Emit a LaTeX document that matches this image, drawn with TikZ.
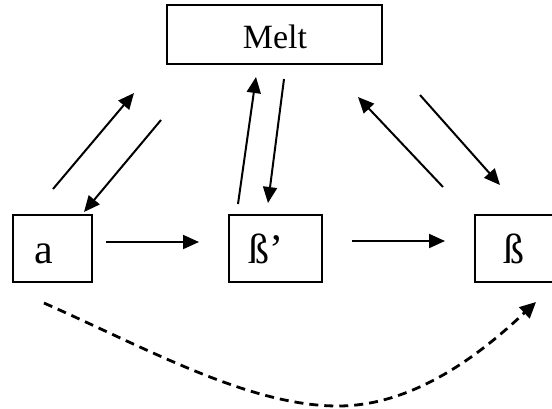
\documentclass[tikz,border=0pt]{standalone}
\usepackage{fontspec}
\setmainfont{Liberation Serif}
\usetikzlibrary{arrows.meta}
\begin{document}
\begin{tikzpicture}[x=1pt,y=-1pt,
  box/.style={draw, line width=2pt, rectangle, inner sep=0pt},
  txt/.style={anchor=base, inner sep=0pt, font=\fontsize{34}{38}\selectfont},
  bigtxt/.style={anchor=base, inner sep=0pt, font=\fontsize{42}{46}\selectfont},
  arr/.style={line width=2pt, -{Triangle[length=16pt,width=14pt]}},
  dasharr/.style={line width=2.8pt, dash pattern=on 9pt off 6pt, -{Triangle[length=16pt,width=15pt]}}]
  \useasboundingbox (0,0) rectangle (552,408);
  % phase boxes
  \node[box, minimum width=215pt, minimum height=59pt] (melt) at (274.5,34.5) {};
  \node[box, minimum width=79pt, minimum height=67pt] (a) at (52.5,248.5) {};
  \node[box, minimum width=93pt, minimum height=67pt] (bp) at (275.5,248.5) {};
  \node[box, minimum width=110pt, minimum height=67pt] (b) at (530,248.5) {};
  % labels
  \node[txt] (meltT) at (275,48) {Melt};
  \node[bigtxt] (aT) at (44,263) {a};
  \node[bigtxt] (bpT) at (266,263) {ß’};
  \node[bigtxt] (bT) at (514,263) {ß};
  % arrow end points
  \coordinate (p1) at (53,189);  \coordinate (q1) at (134,93);
  \coordinate (p2) at (161,120); \coordinate (q2) at (84,212);
  \coordinate (p3) at (238,204); \coordinate (q3) at (256,77);
  \coordinate (p4) at (284,79);  \coordinate (q4) at (268,203);
  \coordinate (p5) at (443,187); \coordinate (q5) at (358,97);
  \coordinate (p6) at (420,95);  \coordinate (q6) at (500,185);
  \coordinate (h1) at (106,242); \coordinate (k1) at (199,242);
  \coordinate (h2) at (352,241); \coordinate (k2) at (445,241);
  \coordinate (d0) at (44,303);  \coordinate (dm) at (338,406);
  \coordinate (d1) at (536,302);
  % exchanges with the melt
  \draw[arr] (p1) -- (q1);
  \draw[arr] (p2) -- (q2);
  \draw[arr] (p3) -- (q3);
  \draw[arr] (p4) -- (q4);
  \draw[arr] (p5) -- (q5);
  \draw[arr] (p6) -- (q6);
  % solid-state transitions
  \draw[arr] (h1) -- (k1);
  \draw[arr] (h2) -- (k2);
  \draw[dasharr] (d0) .. controls (150,350) and (250,406) .. (dm)
                      .. controls (420,406) and (490,345) .. (d1);
\end{tikzpicture}
\end{document}
